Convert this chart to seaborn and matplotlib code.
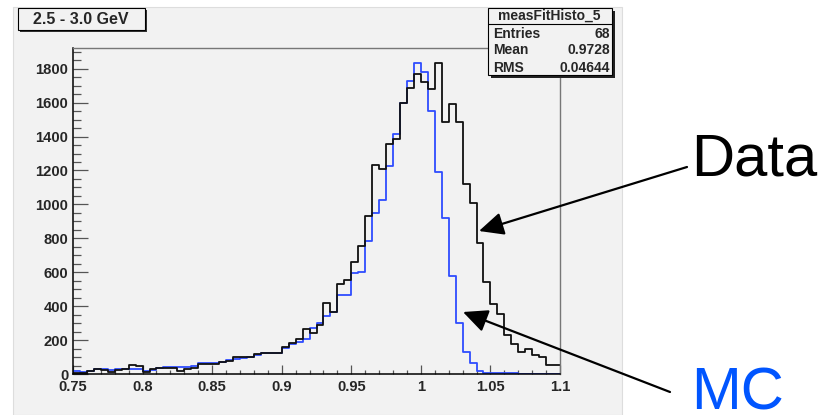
import numpy as np
import pandas as pd
import matplotlib
matplotlib.use("Agg")
import matplotlib.pyplot as plt
from matplotlib.patches import Rectangle
from matplotlib.ticker import MultipleLocator
import seaborn as sns

# 70 bins from 0.75 to 1.1
edges = [round(0.75 + 0.005 * i, 4) for i in range(71)]
data_counts = [4, 8, 16, 27, 24, 12, 24, 29, 51, 47,
               14, 29, 33, 35, 33, 16, 27, 33, 57, 57,
               57, 69, 79, 98, 98, 98, 118, 126, 126, 126,
               161, 181, 206, 265, 242, 289, 420, 367, 531, 556,
               660, 757, 932, 1234, 1208, 1354, 1386, 1596, 1684, 1769,
               1723, 1680, 1835, 1488, 1592, 1488, 1120, 1008, 772, 540,
               410, 353, 227, 179, 132, 146, 110, 100, 53, 53]
mc_counts = [20, 14, 20, 27, 29, 24, 27, 31, 31, 29,
             20, 24, 33, 39, 39, 39, 43, 47, 63, 67,
             63, 73, 82, 86, 96, 98, 112, 122, 122, 122,
             153, 177, 190, 206, 273, 302, 344, 364, 466, 466,
             597, 603, 786, 949, 1028, 1229, 1413, 1596, 1729, 1835,
             1782, 1551, 1189, 918, 576, 302, 132, 63, 20, 8,
             6, 4, 3, 3, 2, 2, 1, 1, 1, 1]
centers = [(a + b) / 2 for a, b in zip(edges[:-1], edges[1:])]

title_text = "2.5 - 3.0 GeV"
stat_name = "measFitHisto_5"
stat_labels = ["Entries", "Mean", "RMS"]
stat_values = ["68", "0.9728", "0.04644"]

df = pd.DataFrame({"x": centers, "data": data_counts, "mc": mc_counts})

sns.set_style("ticks")
plt.rcParams["font.family"] = ["Liberation Sans", "DejaVu Sans"]

W, H = 825, 415
fig = plt.figure(figsize=(W / 100, H / 100), dpi=100, facecolor="white")


def fx(px):
    return px / W


def fy(py):
    return 1 - py / H


grey = "#f2f2f2"
# ROOT canvas panel
fig.add_artist(Rectangle((fx(13), 0), fx(622) - fx(13), fy(7), transform=fig.transFigure,
                         facecolor=grey, edgecolor="#dddddd", lw=0.8, zorder=-5))

ax = fig.add_axes([fx(73), fy(374), fx(560) - fx(73), fy(48) - fy(374)])
ax.set_facecolor(grey)

sns.histplot(data=df, x="x", weights="mc", bins=edges, element="step", fill=False,
             color="#2f4cff", linewidth=1.3, ax=ax)
sns.histplot(data=df, x="x", weights="data", bins=edges, element="step", fill=False,
             color="#111111", linewidth=1.3, ax=ax)

ax.set_xlim(0.75, 1.1)
ax.set_ylim(0, 1922)
ax.set_xlabel("")
ax.set_ylabel("")
ax.xaxis.set_minor_locator(MultipleLocator(0.01))
ax.yaxis.set_minor_locator(MultipleLocator(50))
ax.set_xticks([0.75, 0.8, 0.85, 0.9, 0.95, 1.0, 1.05, 1.1])
ax.set_xticklabels(["0.75", "0.8", "0.85", "0.9", "0.95", "1", "1.05", "1.1"])
ax.set_yticks(range(0, 1801, 200))
ax.set_yticklabels([str(v) for v in range(0, 1801, 200)])
for lab in ax.get_xticklabels() + ax.get_yticklabels():
    lab.set_fontweight("bold")
    lab.set_fontsize(10.6)
ax.tick_params(axis="y", which="major", direction="in", length=10.5, width=0.9, color="#555555", pad=3.5)
ax.tick_params(axis="y", which="minor", direction="in", length=6, width=0.9, color="#555555")
ax.tick_params(axis="x", which="major", direction="in", length=6.7, width=0.9, color="#555555", pad=4)
ax.tick_params(axis="x", which="minor", direction="in", length=3.2, width=0.9, color="#555555")
for side in ["left", "bottom"]:
    ax.spines[side].set_color("black")
    ax.spines[side].set_linewidth(1.1)
for side in ["top", "right"]:
    ax.spines[side].set_visible(True)
    ax.spines[side].set_color("#777777")
    ax.spines[side].set_linewidth(1.0)

# title box
fig.add_artist(Rectangle((fx(20), fy(32)), fx(147) - fx(20), fy(10) - fy(32), transform=fig.transFigure,
                         facecolor="#333333", edgecolor="none", zorder=5))
fig.add_artist(Rectangle((fx(18), fy(30)), fx(145) - fx(18), fy(8) - fy(30), transform=fig.transFigure,
                         facecolor=grey, edgecolor="black", lw=0.8, zorder=6))
fig.text(fx(81), fy(19.5), title_text, ha="center", va="center", fontsize=11.5, fontweight="bold", zorder=7)

# stat box
fig.add_artist(Rectangle((fx(491), fy(78)), fx(615) - fx(491), fy(11) - fy(78), transform=fig.transFigure,
                         facecolor="#222222", edgecolor="none", zorder=5))
fig.add_artist(Rectangle((fx(488), fy(75)), fx(612) - fx(488), fy(8) - fy(75), transform=fig.transFigure,
                         facecolor=grey, edgecolor="black", lw=0.8, zorder=6))
fig.add_artist(plt.Line2D([fx(488), fx(612)], [fy(24), fy(24)], transform=fig.transFigure,
                          color="black", lw=0.8, zorder=7))
fig.text(fx(549), fy(16), stat_name, ha="center", va="center", fontsize=10, fontweight="bold", zorder=7)
for i, (lab, val) in enumerate(zip(stat_labels, stat_values)):
    yy = fy(33.5 + 17 * i)
    fig.text(fx(493), yy, lab, ha="left", va="center", fontsize=10, fontweight="bold", zorder=7)
    fig.text(fx(610), yy, val, ha="right", va="center", fontsize=10, fontweight="bold", zorder=7)

# annotations
fig.text(fx(691), fy(175), "Data", ha="left", va="baseline", fontsize=43, color="black", zorder=10)
fig.text(fx(691), fy(409), "MC", ha="left", va="baseline", fontsize=43, color="#0055ff", zorder=10)
arrow = dict(arrowstyle="-|>,head_length=0.75,head_width=0.35", mutation_scale=20,
             lw=1.6, color="black", shrinkA=0, shrinkB=0)
ax.annotate("", xy=(479, H - 231), xycoords="figure pixels",
            xytext=(687, H - 167), textcoords="figure pixels", arrowprops=arrow,
            annotation_clip=False, zorder=10)
ax.annotate("", xy=(463, H - 312), xycoords="figure pixels",
            xytext=(670, H - 392), textcoords="figure pixels", arrowprops=arrow,
            annotation_clip=False, zorder=10)

plt.savefig("out.png", dpi=100, facecolor="white")
